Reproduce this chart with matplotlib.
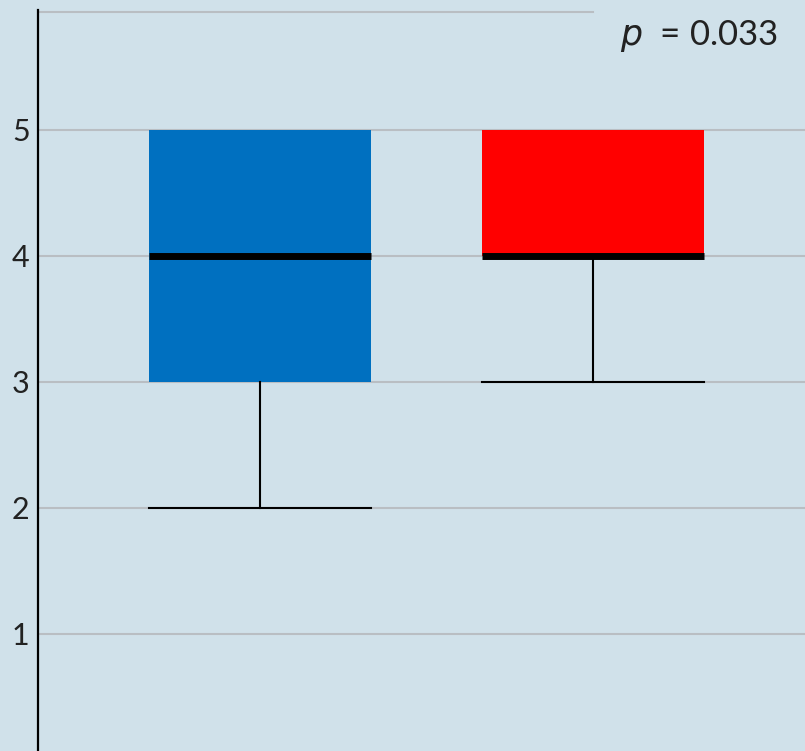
import matplotlib
matplotlib.use('Agg')
import matplotlib.pyplot as plt

# box statistics
groups = ["A", "B"]
q1 = [3, 4]
medians = [4, 4]
q3 = [5, 5]
whis_lo = [2, 3]
whis_hi = [5, 5]
box_colors = ['#0070C0', '#FF0000']
yticks = [1, 2, 3, 4, 5]
p_label = "0.033"

BG = '#d0e1ea'
GRID = '#b9bec3'

plt.rcParams['font.family'] = ['Lato', 'DejaVu Sans']

fig = plt.figure(figsize=(8.05, 7.51), dpi=100, facecolor=BG)
W, H = 805, 751
ax = fig.add_axes([38 / W, 0, 1 - 38 / W, 1 - 10 / H])
ax.set_facecolor(BG)

stats = []
for g, a, m, b, lo, hi in zip(groups, q1, medians, q3, whis_lo, whis_hi):
    stats.append({'label': g, 'q1': a, 'med': m, 'q3': b,
                  'whislo': lo, 'whishi': hi, 'fliers': []})

bp = ax.bxp(stats, positions=[1, 2], widths=0.667, patch_artist=True,
            showfliers=False,
            boxprops=dict(linewidth=0),
            medianprops=dict(color='black', linewidth=5, solid_capstyle='butt'),
            whiskerprops=dict(color='black', linewidth=1.5),
            capprops=dict(color='black', linewidth=1.5),
            capwidths=0.667, zorder=3)
for patch, c in zip(bp['boxes'], box_colors):
    patch.set_facecolor(c)
    patch.set_edgecolor(c)
# upper whiskers coincide with the box top, no cap shown there
for cap in bp['caps'][1::2]:
    cap.set_visible(False)

ax.set_xlim(0.333, 2.637)
ax.set_ylim(0.071, 5.952)

# gridlines
for y in yticks:
    ax.axhline(y, color=GRID, linewidth=1.5, zorder=1)
ax.axhline(5.937, xmax=(593 - 38) / (W - 38), color=GRID, linewidth=1.5, zorder=1)

ax.set_yticks(yticks)
ax.set_yticklabels([str(t) for t in yticks], fontsize=22, color='#222222')
ax.tick_params(axis='y', length=0, pad=6)
ax.set_xticks([])

for s in ['top', 'right', 'bottom']:
    ax.spines[s].set_visible(False)
ax.spines['left'].set_color('black')
ax.spines['left'].set_linewidth(1.6)

ax.text(0.965, 0.965, r"$\it{p}$  = " + p_label, transform=ax.transAxes,
        ha='right', va='center', fontsize=25, color='#222222')

fig.savefig('out.png', dpi=100, facecolor=BG)
